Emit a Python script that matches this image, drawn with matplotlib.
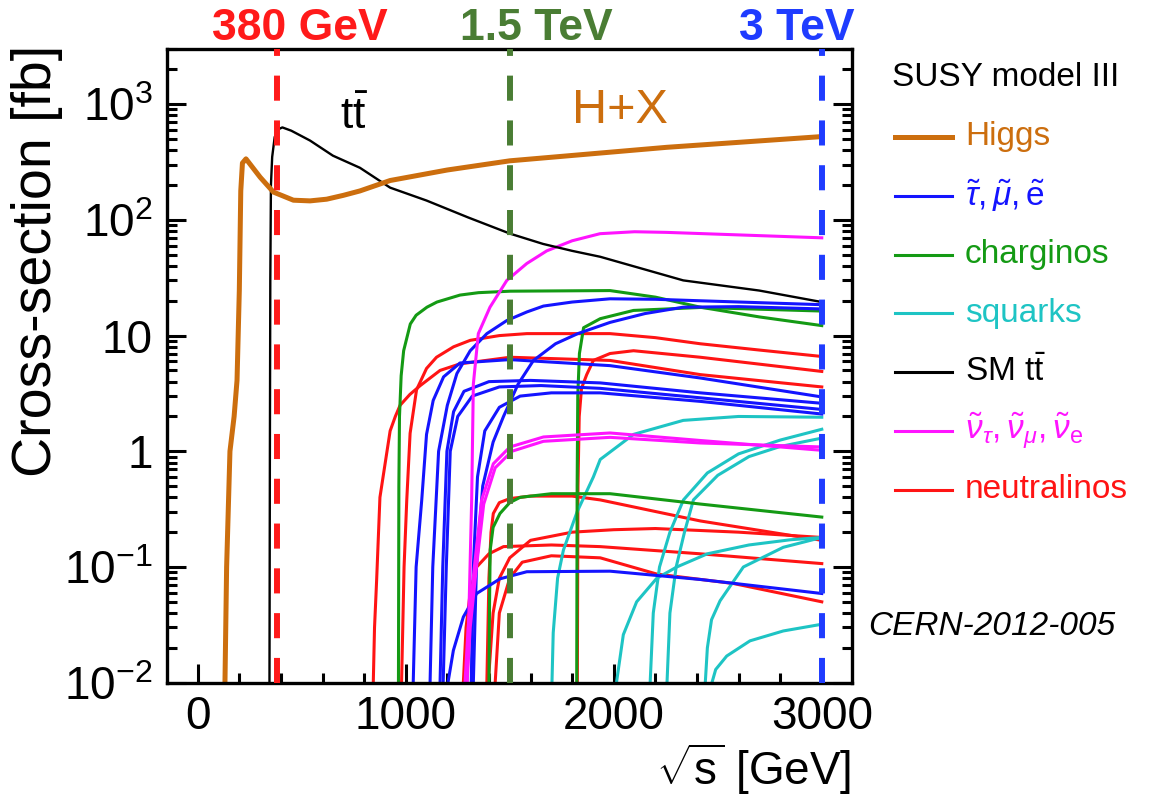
import numpy as np
import matplotlib
matplotlib.use('Agg')
import matplotlib.pyplot as plt
from matplotlib.lines import Line2D
from matplotlib.ticker import MultipleLocator, LogLocator, NullFormatter

plt.rcParams['font.family'] = ['Liberation Sans', 'DejaVu Sans']
plt.rcParams['mathtext.fontset'] = 'custom'
plt.rcParams['mathtext.rm'] = 'Liberation Sans'
plt.rcParams['mathtext.it'] = 'Liberation Sans:italic'
plt.rcParams['mathtext.bf'] = 'Liberation Sans:bold'

# --- data: sqrt(s) [GeV], cross-section [fb] ---
higgs_x = [131, 139, 155, 175, 189, 200, 207, 215, 232, 260, 300, 364, 460, 540, 620, 700, 780, 925,
           1200, 1500, 2255, 3000]
higgs_y = [0.01, 0.1, 1.0, 2.0, 4.1, 24.5, 178, 310, 337, 290, 234, 174, 148, 146, 151, 163, 178, 219,
           270, 324, 424, 525]

tt_x = [345, 347, 349, 352, 358, 370, 390, 407, 450, 540, 650, 780, 925, 1100, 1300, 1502, 1660, 1800,
        1935, 2334, 2700, 3000]
tt_y = [0.01, 1, 30, 200, 350, 520, 610, 630, 590, 485, 359, 282, 190, 147, 105, 76, 62, 54,
        48, 30, 24.5, 19.5]

# sleptons
slep_x = [
    [1117, 1130, 1158, 1200, 1246, 1310, 1390, 1486, 1582, 1662, 1800, 1982, 2200, 2416, 3000],
    [1036, 1050, 1077, 1100, 1132, 1182, 1261, 1500, 1982, 2416, 3000],
    [1165, 1178, 1198, 1230, 1280, 1400, 1600, 1935, 2416, 3000],
    [1180, 1195, 1214, 1250, 1320, 1450, 1650, 1935, 2416, 3000],
    [1315, 1325, 1345, 1380, 1450, 1550, 1700, 1935, 2416, 3000],
    [1325, 1340, 1370, 1420, 1470, 1540, 1614, 1720, 1827, 1982, 2150, 2334, 2600, 3000],
    [1203, 1229, 1277, 1341, 1453, 1582, 1982, 2416, 3000],
]
slep_y = [
    [0.01, 0.1, 1.0, 2.5, 4.7, 7.4, 10.4, 13.5, 16, 18, 19.5, 20.8, 20.6, 20, 18.5],
    [0.01, 0.1, 0.38, 1.4, 2.75, 4.4, 5.8, 6.2, 5.5, 4.3, 2.95],
    [0.01, 0.1, 1.0, 2.2, 3.3, 4.0, 4.1, 3.9, 3.2, 2.6],
    [0.01, 0.1, 1.0, 2.0, 3.0, 3.6, 3.7, 3.5, 2.9, 2.3],
    [0.01, 0.1, 0.6, 1.5, 2.4, 3.0, 3.2, 3.2, 2.7, 2.1],
    [0.01, 0.1, 0.5, 1.2, 2.0, 3.8, 6.1, 8.5, 10.4, 13, 15.5, 17.6, 17.8, 17],
    [0.01, 0.019, 0.037, 0.059, 0.079, 0.091, 0.092, 0.078, 0.059],
]

# charginos
char_x = [
    [965, 967, 970, 978, 990, 1022, 1050, 1102, 1150, 1261, 1350, 1502, 1982, 2200, 2416, 2700, 3000],
    [1822, 1824, 1827, 1835, 1855, 1935, 2095, 2416, 3000],
    [1400, 1403, 1406, 1420, 1453, 1500, 1550, 1700, 1982, 2416, 3000],
]
char_y = [
    [0.01, 0.5, 2.0, 4.5, 7.4, 12.6, 15, 17.6, 19.5, 22.4, 23.5, 24.2, 24.5, 21.5, 17.6, 14.5, 12.2],
    [0.01, 0.5, 3.0, 7.0, 11.7, 14, 16.5, 17.5, 16.3],
    [0.01, 0.05, 0.14, 0.22, 0.29, 0.36, 0.4, 0.43, 0.43, 0.35, 0.27],
]

# squarks
sq_x = [
    [1703, 1709, 1730, 1758, 1824, 1902, 1935, 2095, 2334, 2600, 3000],
    [2175, 2190, 2220, 2270, 2335, 2450, 2600, 2800, 3000],
    [2256, 2270, 2300, 2340, 2383, 2500, 2650, 2800, 3000],
    [2013, 2046, 2110, 2207, 2303, 2450, 2650, 2850, 3000],
    [2440, 2450, 2470, 2511, 2623, 2815, 3000],
    [2472, 2490, 2543, 2655, 2815, 3000],
]
sq_y = [
    [0.01, 0.027, 0.08, 0.14, 0.3, 0.6, 0.85, 1.4, 1.85, 2.0, 1.97],
    [0.01, 0.04, 0.1, 0.2, 0.38, 0.65, 0.95, 1.25, 1.55],
    [0.01, 0.04, 0.1, 0.2, 0.38, 0.62, 0.9, 1.1, 1.3],
    [0.01, 0.026, 0.05, 0.08, 0.1, 0.13, 0.155, 0.172, 0.18],
    [0.01, 0.02, 0.035, 0.051, 0.1, 0.148, 0.18],
    [0.01, 0.013, 0.017, 0.023, 0.028, 0.032],
]

# sneutrinos
snu_x = [
    [1295, 1305, 1317, 1325, 1349, 1405, 1486, 1582, 1678, 1800, 1934, 2100, 2255, 3000],
    [1285, 1300, 1330, 1365, 1421, 1501, 1662, 1982, 2416, 3000],
    [1295, 1310, 1340, 1375, 1430, 1510, 1662, 1982, 2416, 3000],
]
snu_y = [
    [0.01, 0.05, 0.38, 3.8, 10.4, 17.6, 30, 42, 54, 66, 76, 79, 78, 70],
    [0.01, 0.03, 0.1, 0.38, 0.78, 1.09, 1.33, 1.44, 1.24, 1.02],
    [0.01, 0.03, 0.1, 0.35, 0.72, 1.0, 1.22, 1.32, 1.18, 1.09],
]

# neutralinos
neu_x = [
    [980, 992, 1005, 1021, 1052, 1100, 1148, 1230, 1310, 1450, 1582, 1982, 2200, 2416, 2700, 3000],
    [844, 850, 860, 876, 925, 950, 973, 1020, 1070, 1165, 1261, 1502, 1982, 2416, 3000],
    [1825, 1828, 1834, 1845, 1870, 1902, 1982, 2095, 2416, 3000],
    [1390, 1400, 1410, 1421, 1450, 1500, 1600, 1800, 1935, 2416, 3000],
    [1397, 1420, 1450, 1500, 1600, 1800, 2000, 2200, 2600, 3000],
    [1277, 1290, 1310, 1341, 1400, 1470, 1700, 1935, 2416, 3000],
    [1430, 1450, 1500, 1560, 1700, 1935, 2206, 2575, 3000],
]
neu_y = [
    [0.01, 0.1, 0.38, 1.43, 3.4, 5.2, 6.5, 8.0, 9.1, 10.0, 10.4, 10.4, 9.6, 8.5, 7.5, 6.6],
    [0.01, 0.03, 0.076, 0.4, 1.5, 2.0, 2.5, 3.1, 3.7, 5.0, 5.7, 6.5, 6.1, 4.6, 3.6],
    [0.01, 0.5, 2.0, 3.5, 4.6, 6.1, 7.0, 7.4, 6.5, 4.9],
    [0.01, 0.08, 0.2, 0.29, 0.36, 0.39, 0.41, 0.41, 0.38, 0.25, 0.17],
    [0.01, 0.04, 0.08, 0.12, 0.17, 0.2, 0.21, 0.215, 0.2, 0.18],
    [0.01, 0.03, 0.06, 0.1, 0.13, 0.15, 0.155, 0.15, 0.13, 0.107],
    [0.01, 0.04, 0.08, 0.11, 0.125, 0.12, 0.087, 0.072, 0.05],
]

stage_energies = [380, 1500, 3000]
stage_labels = ['380 GeV', '1.5 TeV', '3 TeV']
stage_label_x = [492, 1626, 2881]
stage_colors = ['#ff1a1a', '#4a7d34', '#1f3cff']

xticks = [0, 1000, 2000, 3000]
yticks = [1e-2, 1e-1, 1, 10, 1e2, 1e3]
ytick_labels = [r'$10^{-2}$', r'$10^{-1}$', '1', '10', r'$10^{2}$', r'$10^{3}$']

c_higgs = '#cc6e0e'
c_slep = '#1414ff'
c_char = '#149a14'
c_sq = '#1ec4c4'
c_tt = 'black'
c_snu = '#ff14ff'
c_neu = '#ff1414'

fig = plt.figure(figsize=(11.65, 7.98), dpi=100)
ax = fig.add_axes([0.1431, 0.1445, 0.588, 0.7941])

lw = 2.2
for xs, ys in zip(neu_x, neu_y):
    ax.plot(xs, ys, color=c_neu, lw=lw)
for xs, ys in zip(sq_x, sq_y):
    ax.plot(xs, ys, color=c_sq, lw=lw)
for xs, ys in zip(char_x, char_y):
    ax.plot(xs, ys, color=c_char, lw=lw)
for xs, ys in zip(slep_x, slep_y):
    ax.plot(xs, ys, color=c_slep, lw=lw)
for xs, ys in zip(snu_x, snu_y):
    ax.plot(xs, ys, color=c_snu, lw=lw)
ax.plot(tt_x, tt_y, color=c_tt, lw=1.7)
ax.plot(higgs_x, higgs_y, color=c_higgs, lw=3.6)

for e, lab, lx, c in zip(stage_energies, stage_labels, stage_label_x, stage_colors):
    ax.axvline(e, color=c, lw=4.3, dashes=(4.2, 3.3), zorder=5)
    ax.text(lx, 1.014, lab, color=c, fontsize=32, fontweight='bold',
            ha='center', va='baseline', transform=ax.get_xaxis_transform())

ax.text(751, 764, r'$\mathrm{t\bar{t}}$', fontsize=32, ha='center', va='center')
ax.text(2030, 880, 'H+X', fontsize=35, color=c_higgs, ha='center', va='center')

ax.set_yscale('log')
ax.set_xlim(-149, 3144)
ax.set_ylim(1e-2, 3e3)
ax.set_xticks(xticks)
ax.xaxis.set_minor_locator(MultipleLocator(200))
ax.set_yticks(yticks)
ax.set_yticklabels(ytick_labels)
ax.yaxis.set_minor_locator(LogLocator(base=10, subs=np.arange(2, 10)))
ax.yaxis.set_minor_formatter(NullFormatter())
ax.tick_params(which='both', direction='in', top=False, right=True, width=2.2, labelsize=33)
ax.tick_params(which='major', length=14)
ax.tick_params(which='minor', length=7)
ax.tick_params(axis='y', pad=10)
ax.tick_params(axis='x', pad=9)
for s in ax.spines.values():
    s.set_linewidth(2.4)

fig.text(0.032, 0.673, 'Cross-section [fb]', rotation=90, fontsize=40, ha='center', va='center')
fig.text(0.7305, 0.001, r'$\sqrt{\mathrm{s}}$ [GeV]', fontsize=33, ha='right', va='bottom')
fig.text(0.745, 0.2143, 'CERN-2012-005', fontsize=24, style='italic', ha='left', va='center')

# legend drawn by hand at the right
legend_labels = ['Higgs', r'$\tilde{\tau}, \tilde{\mu}, \tilde{\mathrm{e}}$', 'charginos', 'squarks',
                 r'SM $\mathrm{t\bar{t}}$',
                 r'$\tilde{\nu}_{\tau}, \tilde{\nu}_{\mu}, \tilde{\nu}_{\mathrm{e}}$', 'neutralinos']
legend_colors = [c_higgs, c_slep, c_char, c_sq, c_tt, c_snu, c_neu]
legend_widths = [3.6, 2.2, 2.2, 2.2, 2.2, 2.2, 2.2]
W, H = 1165.0, 798.0
fig.text(892 / W, 1 - 78 / H, 'SUSY model III', fontsize=24, ha='left', va='center')
for i, (lab, c, w) in enumerate(zip(legend_labels, legend_colors, legend_widths)):
    yy = 1 - (137 + 58.8 * i) / H
    fig.add_artist(Line2D([895 / W, 952 / W], [yy, yy], color=c, lw=w, transform=fig.transFigure))
    fig.text(965 / W, yy, lab, color=c, fontsize=24, ha='left', va='center')

fig.savefig('out.png', dpi=100)
